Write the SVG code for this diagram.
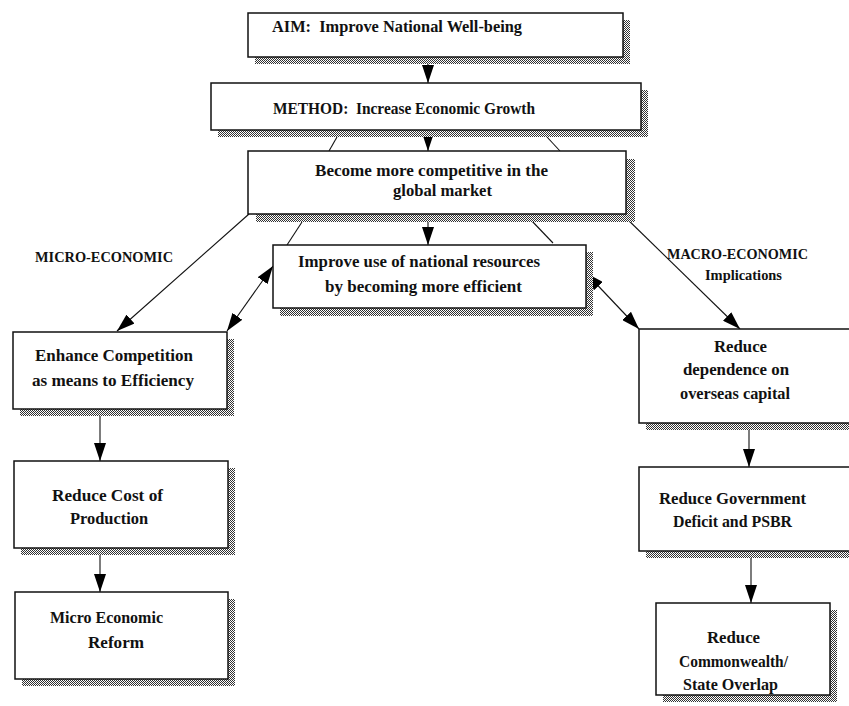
<svg xmlns="http://www.w3.org/2000/svg" width="849" height="706" viewBox="0 0 849 706">
<defs>
<pattern id="dots" width="2" height="2" patternUnits="userSpaceOnUse">
<rect width="2" height="2" fill="#fff"/>
<rect width="1" height="1" fill="#333"/>
<rect x="1" y="1" width="1" height="1" fill="#333"/>
</pattern>
<marker id="ah" viewBox="0 0 18 12" refX="18" refY="6" markerWidth="18" markerHeight="12" markerUnits="userSpaceOnUse" orient="auto-start-reverse">
<path d="M0,0 L18,6 L0,12 z" fill="#000"/>
</marker>
</defs>
<style>
.box{fill:#fff;stroke:#111;stroke-width:1.5}
.sh{fill:url(#dots)}
.t{font-family:"Liberation Serif","Times New Roman",serif;font-weight:bold;font-size:16px;fill:#111;white-space:pre}
.lab{font-family:"Liberation Serif","Times New Roman",serif;font-weight:bold;font-size:14px;fill:#111}
.ln{stroke:#111;stroke-width:1.1;fill:none}
.ar{stroke:#111;stroke-width:1.1;fill:none;marker-end:url(#ah)}
.dar{stroke:#111;stroke-width:1.1;fill:none;marker-end:url(#ah);marker-start:url(#ah)}
</style>
<rect width="849" height="706" fill="#fff"/>

<g id="connectors">
<line class="ar" x1="428" y1="57" x2="428" y2="83"/>
<line class="ar" x1="428" y1="130" x2="428" y2="151"/>
<line class="ln" x1="337" y1="137" x2="329" y2="151"/>
<line class="ln" x1="547" y1="137" x2="560" y2="151"/>
<line class="ar" x1="428" y1="214" x2="428" y2="245"/>
<line class="ln" x1="302" y1="222" x2="287" y2="245"/>
<line class="ln" x1="530" y1="219" x2="553" y2="243"/>
<line class="ar" x1="249" y1="214" x2="117" y2="331"/>
<line class="ar" x1="622" y1="214" x2="740" y2="329"/>
<line class="dar" x1="273" y1="266" x2="227" y2="331"/>
<line class="dar" x1="586" y1="273" x2="639" y2="329"/>
<line class="ar" x1="100" y1="409" x2="100" y2="461"/>
<line class="ar" x1="100" y1="548" x2="100" y2="592"/>
<line class="ar" x1="749" y1="423" x2="749" y2="467"/>
<line class="ar" x1="751" y1="551" x2="751" y2="603"/>
</g>

<g id="aim">
<rect class="sh" x="255" y="20" width="375" height="44"/>
<rect class="box" x="248" y="13" width="375" height="44"/>
<text class="t" x="272" y="32" textLength="250" lengthAdjust="spacingAndGlyphs">AIM:  Improve National Well-being</text>
</g>

<g id="method">
<rect class="sh" x="218" y="90" width="430" height="47"/>
<rect class="box" x="211" y="83" width="430" height="47"/>
<text class="t" x="273" y="114" textLength="262" lengthAdjust="spacingAndGlyphs">METHOD:  Increase Economic Growth</text>
</g>

<g id="become">
<rect class="sh" x="256" y="159" width="379" height="63"/>
<rect class="box" x="248" y="151" width="378" height="63"/>
<text class="t" x="315" y="176" textLength="233" lengthAdjust="spacingAndGlyphs">Become more competitive in the</text>
<text class="t" x="393" y="196" textLength="99" lengthAdjust="spacingAndGlyphs">global market</text>
</g>

<g id="improve">
<rect class="sh" x="280" y="252" width="313" height="64"/>
<rect class="box" x="273" y="245" width="313" height="63"/>
<text class="t" x="298" y="267" textLength="242" lengthAdjust="spacingAndGlyphs">Improve use of national resources</text>
<text class="t" x="325" y="292" textLength="197" lengthAdjust="spacingAndGlyphs">by becoming more efficient</text>
</g>

<g id="enhance">
<rect class="sh" x="20" y="339" width="214" height="77"/>
<rect class="box" x="13" y="332" width="214" height="77"/>
<text class="t" x="35" y="361" textLength="158" lengthAdjust="spacingAndGlyphs">Enhance Competition</text>
<text class="t" x="32" y="386" textLength="162" lengthAdjust="spacingAndGlyphs">as means to Efficiency</text>
</g>

<g id="cost">
<rect class="sh" x="21" y="468" width="214" height="87"/>
<rect class="box" x="14" y="461" width="214" height="87"/>
<text class="t" x="52" y="501" textLength="111" lengthAdjust="spacingAndGlyphs">Reduce Cost of</text>
<text class="t" x="70" y="524" textLength="78" lengthAdjust="spacingAndGlyphs">Production</text>
</g>

<g id="micro">
<rect class="sh" x="22" y="599" width="213" height="87"/>
<rect class="box" x="15" y="592" width="213" height="87"/>
<text class="t" x="50" y="623" textLength="113" lengthAdjust="spacingAndGlyphs">Micro Economic</text>
<text class="t" x="88" y="648" textLength="56" lengthAdjust="spacingAndGlyphs">Reform</text>
</g>

<g id="dependence">
<rect class="sh" x="646" y="336" width="220" height="94"/>
<rect class="box" x="639" y="329" width="220" height="94"/>
<text class="t" x="714" y="352" textLength="53" lengthAdjust="spacingAndGlyphs">Reduce</text>
<text class="t" x="683" y="375" textLength="106" lengthAdjust="spacingAndGlyphs">dependence on</text>
<text class="t" x="680" y="399" textLength="110" lengthAdjust="spacingAndGlyphs">overseas capital</text>
</g>

<g id="government">
<rect class="sh" x="646" y="474" width="220" height="84"/>
<rect class="box" x="639" y="467" width="220" height="84"/>
<text class="t" x="659" y="504" textLength="147" lengthAdjust="spacingAndGlyphs">Reduce Government</text>
<text class="t" x="673" y="527" textLength="119" lengthAdjust="spacingAndGlyphs">Deficit and PSBR</text>
</g>

<g id="commonwealth">
<rect class="sh" x="663" y="610" width="174" height="92"/>
<rect class="box" x="656" y="603" width="174" height="92"/>
<text class="t" x="707" y="643" textLength="53" lengthAdjust="spacingAndGlyphs">Reduce</text>
<text class="t" x="679" y="667" textLength="109" lengthAdjust="spacingAndGlyphs">Commonwealth/</text>
<text class="t" x="683" y="690" textLength="95" lengthAdjust="spacingAndGlyphs">State Overlap</text>
</g>

<g id="labels">
<text class="lab" x="35" y="262" textLength="138" lengthAdjust="spacingAndGlyphs">MICRO-ECONOMIC</text>
<text class="lab" x="667" y="259" textLength="141" lengthAdjust="spacingAndGlyphs">MACRO-ECONOMIC</text>
<text class="lab" x="705" y="280" textLength="77" lengthAdjust="spacingAndGlyphs">Implications</text>
</g>
</svg>
